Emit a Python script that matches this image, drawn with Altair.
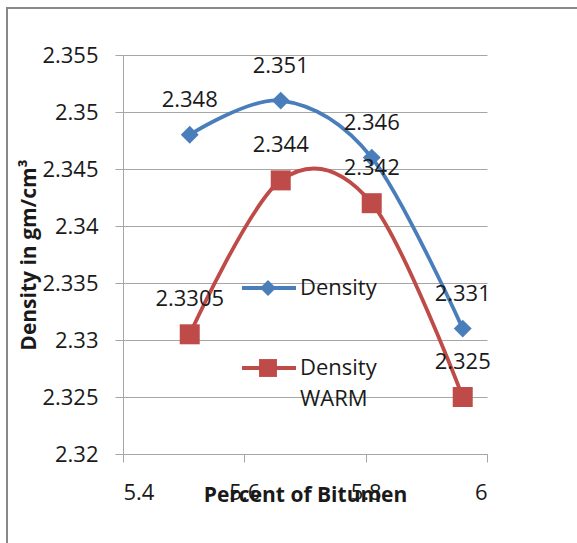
import altair as alt
import pandas as pd

# Percent of bitumen on the x axis, bulk density (gm/cm³) for the two series
bitumen = [5.51, 5.66, 5.81, 5.96]
density = [2.348, 2.351, 2.346, 2.331]
density_warm = [2.3305, 2.344, 2.342, 2.325]
series_names = ["Density", "Density WARM"]
series_values = [density, density_warm]
series_colors = ["#4A7EBB", "#BE4B48"]
series_shapes = ["diamond", "square"]
series_sizes = [320, 400]

y_ticks = [2.32, 2.325, 2.33, 2.335, 2.34, 2.345, 2.35, 2.355]
x_ticks = [5.4, 5.6, 5.8, 6.0]

FONT = "Open Sans"
FS = 22
GRID = "#a6a6a6"
TEXT = "#1a1a1a"

W, H = 364, 399

x_scale = alt.Scale(domain=[5.4, 6.0], nice=False, zero=False)
y_scale = alt.Scale(domain=[2.32, 2.355], nice=False, zero=False)

x_enc = alt.X(
    "bitumen:Q",
    scale=x_scale,
    axis=alt.Axis(
        values=x_ticks, format=".1~f", title="Percent of Bitumen", grid=False,
        domainColor=GRID, tickColor=GRID, tickSize=8, labelPadding=20,
        labelFont=FONT, labelFontSize=FS, labelColor=TEXT,
        titleFont=FONT, titleFontSize=FS - 1, titleFontWeight="bold", titleColor=TEXT,
        titleY=41, titleBaseline="middle",
    ),
)
y_enc = alt.Y(
    "density:Q",
    scale=y_scale,
    axis=alt.Axis(
        values=y_ticks, format=".3~f", title="Density in gm/cm³", grid=True,
        gridColor=GRID, domainColor=GRID, tickColor=GRID, tickSize=8, labelPadding=17,
        labelFont=FONT, labelFontSize=FS, labelColor=TEXT,
        titleFont=FONT, titleFontSize=FS - 1, titleFontWeight="bold", titleColor=TEXT,
        titleAngle=270, titleAlign="center", titleBaseline="middle",
        titleX=-94, titleY=H / 2,
    ),
)

layers = []

# outer frame of the chart
frame = alt.Chart(pd.DataFrame({"k": [0]})).mark_rect(
    fillOpacity=0, stroke="#888888", strokeWidth=2
).encode(x=alt.value(-116), x2=alt.value(520), y=alt.value(-47), y2=alt.value(560))
layers.append(frame)

legend_y = [233, 313]

for name, vals, col, shp, sz, ly in zip(
    series_names, series_values, series_colors, series_shapes, series_sizes, legend_y
):
    df = pd.DataFrame({"bitumen": bitumen, "density": vals, "series": name})
    base = alt.Chart(df).encode(x=x_enc, y=y_enc)
    layers.append(
        base.mark_line(interpolate="cardinal", tension=0, color=col, strokeWidth=3.8)
    )
    layers.append(
        base.mark_point(shape=shp, size=sz, filled=True, color=col, opacity=1)
    )

    # legend entry
    lg = alt.Chart(pd.DataFrame({"series": [name]}))
    layers.append(
        lg.mark_rule(color=col, strokeWidth=3.8).encode(
            x=alt.value(119), x2=alt.value(173), y=alt.value(ly)
        )
    )
    layers.append(
        lg.mark_point(shape=shp, size=sz * 0.8, filled=True, color=col, opacity=1).encode(
            x=alt.value(145), y=alt.value(ly)
        )
    )
    layers.append(
        lg.mark_text(
            align="left", baseline="alphabetic", font=FONT, fontSize=FS,
            color=TEXT, lineBreak=" ", dy=7, lineHeight=31,
        ).encode(x=alt.value(177), y=alt.value(ly), text="series:N")
    )

for name, vals in zip(series_names, series_values):
    df = pd.DataFrame({"bitumen": bitumen, "density": vals})
    layers.append(
        alt.Chart(df)
        .mark_text(dy=-35, font=FONT, fontSize=FS, color=TEXT, baseline="middle")
        .encode(x=x_enc, y=y_enc, text=alt.Text("density:Q", format=".6~g"))
    )

chart = (
    alt.layer(*layers)
    .properties(
        width=W,
        height=H,
        autosize=alt.AutoSizeParams(type="none"),
        padding={"left": 123, "top": 55, "right": 90, "bottom": 89},
        background="white",
    )
    .configure_view(stroke=None)
)

chart.save("out.html", embed_options={"renderer": "svg", "actions": False})
